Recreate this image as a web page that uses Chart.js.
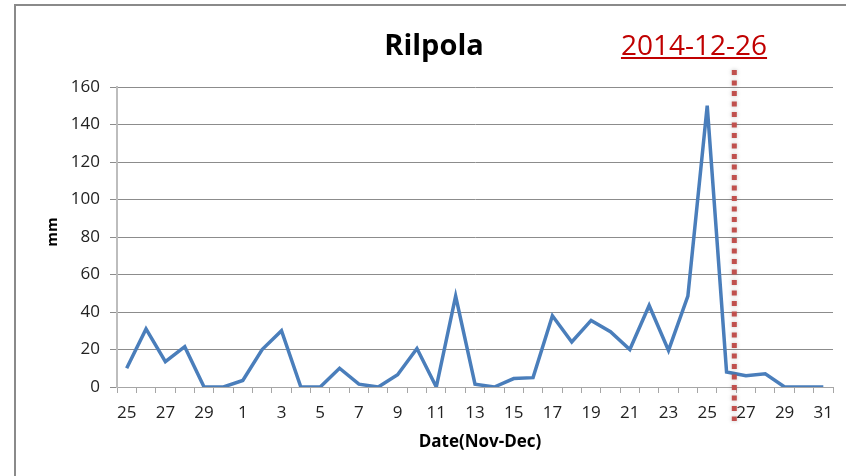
<!DOCTYPE html>
<html>
<head>
<meta charset="utf-8">
<script src="https://cdn.jsdelivr.net/npm/chart.js@4.4.1/dist/chart.umd.min.js"></script>
<style>
  html, body { margin: 0; padding: 0; background: #fff; }
  #wrap { width: 846px; height: 476px; position: relative; }
</style>
</head>
<body>
<div id="wrap"><canvas id="rain"></canvas></div>
<script>
// daily rainfall, 25 Nov - 31 Dec 2014
const days = ['25', '26', '27', '28', '29', '30',
  '1', '2', '3', '4', '5', '6', '7', '8', '9', '10', '11', '12', '13', '14', '15', '16',
  '17', '18', '19', '20', '21', '22', '23', '24', '25', '26', '27', '28', '29', '30', '31']
const rainfall = [10, 31, 13.5, 21.5, 0, 0,
  3.5, 20, 30, 0, 0, 10, 1.5, 0, 6.5, 20.5, 0, 48.5, 1.5, 0, 4.5, 5,
  38, 24, 35.5, 29.5, 20, 43.5, 19.5, 48.5, 150, 8, 6, 7, 0, 0, 0]
const yMin = 0, yMax = 160, yStep = 20
const chartTitle = 'Rilpola'
const eventDate = '2014-12-26'
const eventIndex = 31.4   // just after the 26 Dec point
const xTitle = 'Date(Nov-Dec)'
const yTitle = 'mm'

const font = '"Open Sans", "DejaVu Sans", sans-serif'

const decor = {
  id: 'decor',
  beforeDraw(chart) {
    const ctx = chart.ctx
    ctx.save()
    ctx.fillStyle = '#fff'
    ctx.fillRect(0, 0, chart.width, chart.height)
    ctx.strokeStyle = '#8a8a8a'
    ctx.lineWidth = 2
    ctx.strokeRect(15, 5, chart.width + 20, chart.height + 20)
    ctx.restore()
  },
  afterDatasetsDraw(chart) {
    const ctx = chart.ctx
    const area = chart.chartArea
    const x = chart.scales.x.getPixelForValue(eventIndex)
    ctx.save()
    ctx.strokeStyle = '#c0504d'
    ctx.lineWidth = 5
    ctx.setLineDash([5, 5.5])
    ctx.shadowColor = 'rgba(0,0,0,0.25)'
    ctx.shadowBlur = 4
    ctx.beginPath()
    ctx.moveTo(x, area.top - 17)
    ctx.lineTo(x, area.bottom + 34)
    ctx.stroke()
    ctx.restore()
  },
  afterDraw(chart) {
    const ctx = chart.ctx
    const area = chart.chartArea
    ctx.save()
    ctx.textAlign = 'center'
    ctx.textBaseline = 'alphabetic'

    ctx.fillStyle = '#000'
    ctx.font = 'bold 29px ' + font
    ctx.fillText(chartTitle, 434, 55)

    ctx.fillStyle = '#c00000'
    ctx.font = '28px ' + font
    ctx.fillText(eventDate, 694, 55)
    const w = ctx.measureText(eventDate).width
    ctx.fillRect(694 - w / 2, 57, w, 2)

    ctx.fillStyle = '#000'
    ctx.font = 'bold 17px ' + font
    ctx.textBaseline = 'middle'
    ctx.fillText(xTitle, (area.left + area.right) / 2 + 5, 442)
    ctx.font = 'bold 15px ' + font
    ctx.translate(53, (area.top + area.bottom) / 2 - 5)
    ctx.rotate(-Math.PI / 2)
    ctx.fillText(yTitle, 0, 0)
    ctx.restore()
  }
}

new Chart(document.getElementById('rain'), {
  type: 'line',
  data: {
    labels: days,
    datasets: [{
      data: rainfall,
      borderColor: '#4a7ebb',
      borderWidth: 3.5,
      pointRadius: 0,
      tension: 0,
      fill: false
    }]
  },
  options: {
    responsive: true,
    maintainAspectRatio: false,
    animation: false,
    layout: { padding: { top: 87, right: 13, bottom: 0, left: 0 } },
    plugins: {
      legend: { display: false },
      tooltip: { enabled: false }
    },
    scales: {
      x: {
        offset: true,
        afterFit: s => { s.height = 89 },
        grid: {
          offset: true,
          drawOnChartArea: false,
          drawTicks: true,
          tickLength: 6,
          color: '#a6a6a6'
        },
        border: { color: '#a6a6a6', width: 1 },
        ticks: {
          autoSkip: false,
          maxRotation: 0,
          padding: 10,
          color: '#222',
          font: { family: font, size: 17 },
          callback: (v, i) => i % 2 === 0 ? days[i] : ''
        }
      },
      y: {
        min: yMin,
        max: yMax,
        afterFit: s => { s.width = 117 },
        grid: {
          color: '#8c8c8c',
          lineWidth: 1,
          tickLength: 7,
          drawTicks: true
        },
        border: { color: '#bdbdbd', width: 2 },
        ticks: {
          stepSize: yStep,
          padding: 10,
          color: '#222',
          font: { family: font, size: 17 }
        }
      }
    }
  },
  plugins: [decor]
})
</script>
</body>
</html>
